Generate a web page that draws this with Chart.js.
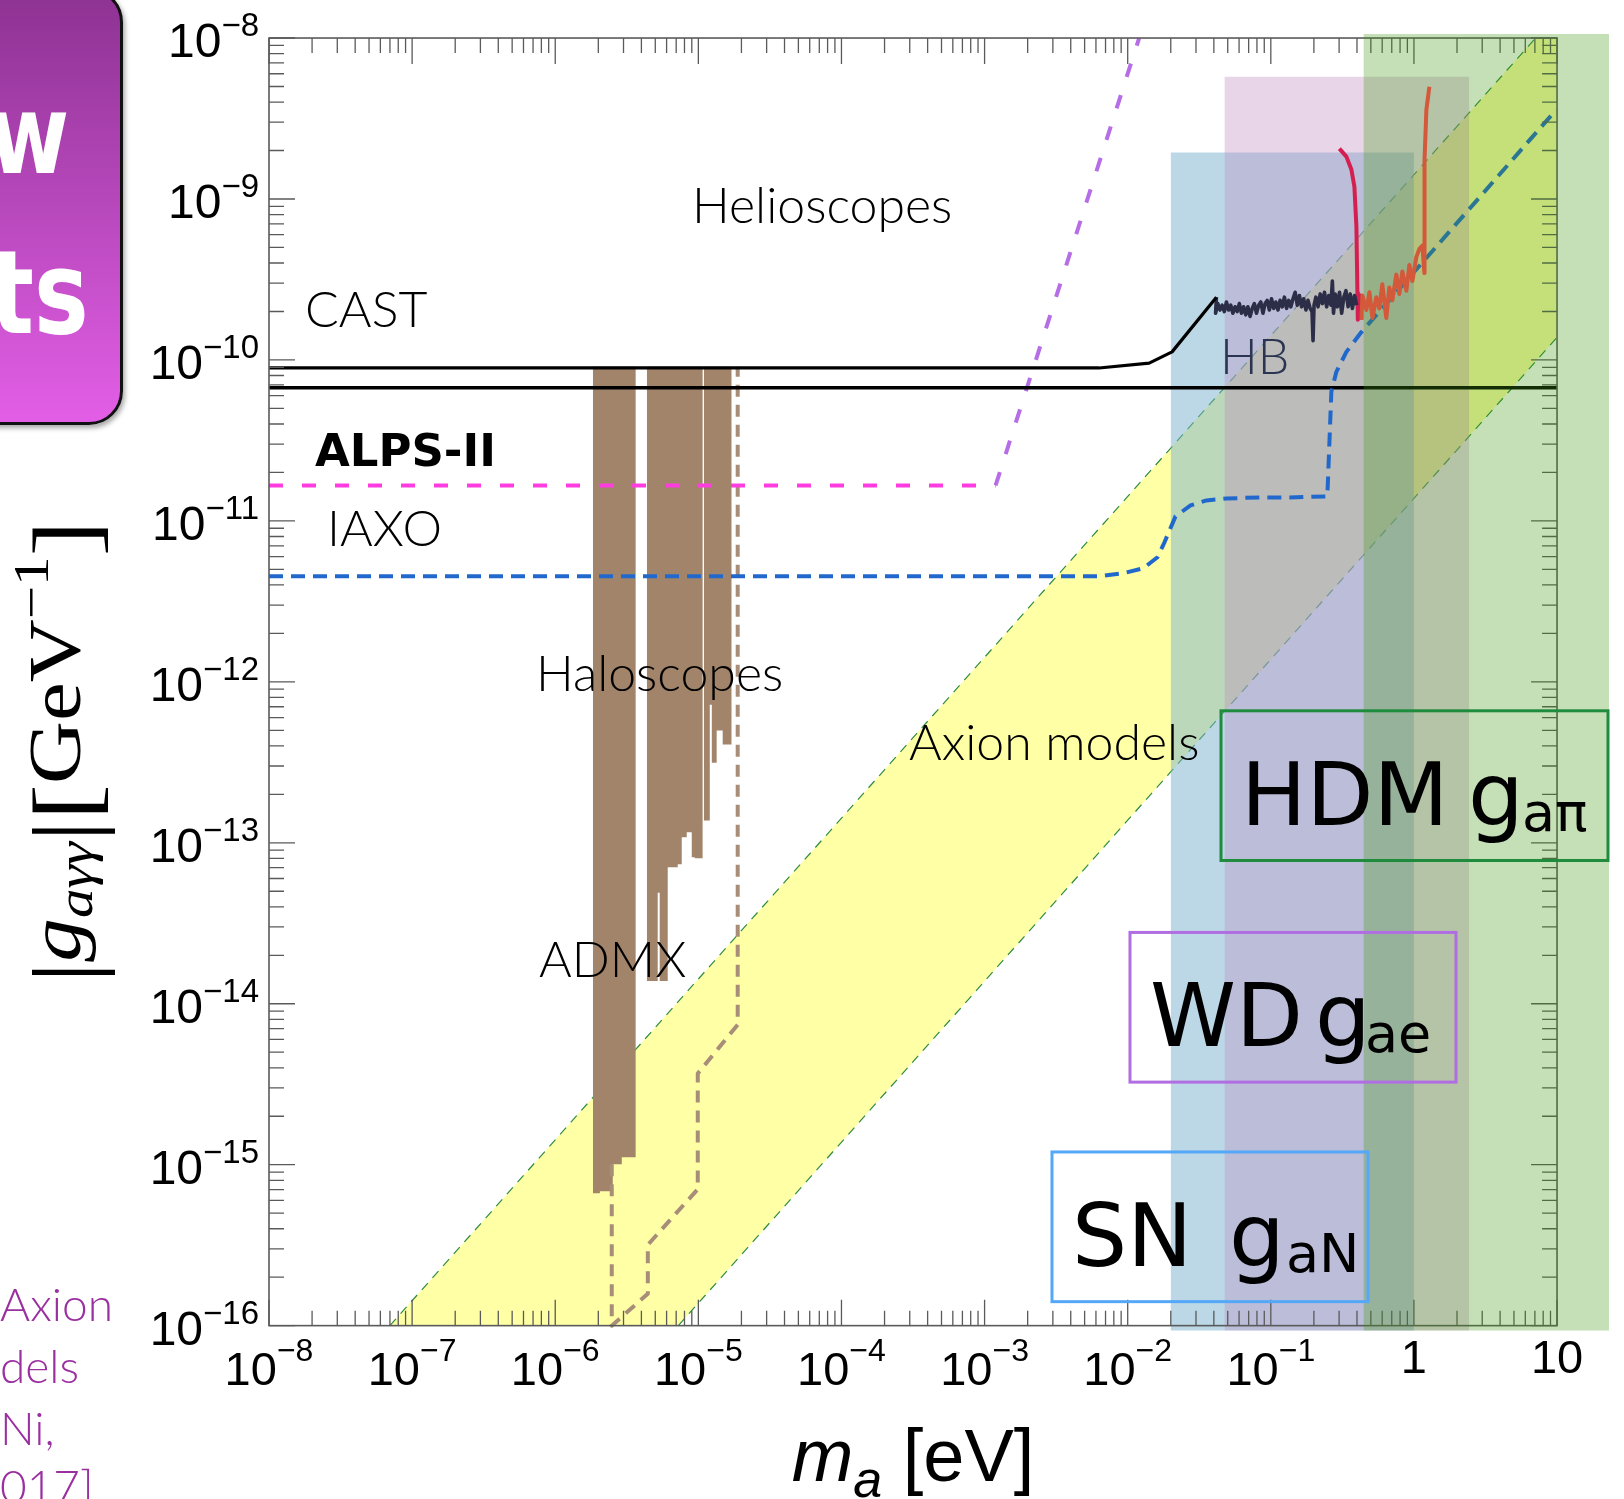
<!DOCTYPE html>
<html>
<head>
<meta charset="utf-8">
<script src="https://cdn.jsdelivr.net/npm/chart.js"></script>
<style>
  html, body { margin: 0; padding: 0; background: #fff; overflow: hidden; }
  #wrap { position: relative; width: 1624px; height: 1499px; }
  #myChart { position: absolute; left: 0; top: 0; }
  .slideBox { position: absolute; left: -40px; top: -12px; width: 163px; height: 437px; box-sizing: border-box;
    border: 3px solid #111; border-radius: 34px; background: linear-gradient(#8d3292, #e25ee6);
    box-shadow: 2px 3px 5px rgba(0,0,0,0.35); }
  .slideTxt { position: absolute; color: #fff; line-height: 1; white-space: nowrap; font-weight: bold;
    font-family: "DejaVu Sans", sans-serif; transform: scaleX(0.8); transform-origin: left top; }
  .cite { position: absolute; left: 0; color: #9a2fa0; text-align: right; white-space: nowrap;
    font: 300 46px Lato, sans-serif; line-height: 48px; }
</style>
</head>
<body>
<div id="wrap">
  <canvas id="myChart" width="1624" height="1499"></canvas>
  <div class="slideBox"></div>
  <div class="slideTxt" style="left:-12px; top:80px; font-size:110px;">w</div>
  <div class="slideTxt" style="left:-10px; top:236px; font-size:115px;">ts</div>
  <div class="cite" style="top:1280px; width:106px;">Axion</div>
  <div class="cite" style="top:1342px; width:76px;">dels</div>
  <div class="cite" style="top:1404px; width:42px;">Ni,</div>
  <div class="cite" style="top:1462px; width:80px;">017]</div>
</div>
<script>
// ---------------------------------------------------------------------------
// everything below is in log10 units: x = log10(m_a / eV), y = log10(g / GeV^-1)
const xDecades = [-8, -7, -6, -5, -4, -3, -2, -1, 0, 1];
const xTickLabels = [["10", "−8"], ["10", "−7"], ["10", "−6"], ["10", "−5"], ["10", "−4"],
  ["10", "−3"], ["10", "−2"], ["10", "−1"], ["1", ""], ["10", ""]];
const yDecades = [-16, -15, -14, -13, -12, -11, -10, -9, -8];
const yTickLabels = [["10", "−16"], ["10", "−15"], ["10", "−14"], ["10", "−13"], ["10", "−12"],
  ["10", "−11"], ["10", "−10"], ["10", "−9"], ["10", "−8"]];
const xRange = [-8, 1.363];
const yRange = [-16.031, -7.975];

// QCD axion band (two edges)
const axionUpperFill = [[-7.155, -16], [0.85, -8], [1, -8]];
const axionLowerFill = [[-7.155, -16], [-5.14, -16], [1, -9.86]];
const axionUpperEdge = [[-7.155, -16], [0.85, -8]];
const axionLowerEdge = [[-5.14, -16], [1, -9.86]];

// astrophysics hints (top edge, filled down)
const snBand = [[-1.70, -8.712], [0, -8.712]];
const wdBand = [[-1.324, -8.241], [0.387, -8.241]];
const hdmBand = [[-0.353, -7.975], [1.363, -7.975]];
const bandFloor = -16.031;

// helioscopes
const castLine = [[-8, -10.05], [-2.2, -10.05], [-1.85, -10.02], [-1.69, -9.95], [-1.38, -9.61]];
const castNoise = [[-1.380, -9.61], [-1.386, -9.71], [-1.370, -9.65], [-1.355, -9.69], [-1.340, -9.66],
  [-1.325, -9.70], [-1.310, -9.64], [-1.295, -9.69], [-1.280, -9.66], [-1.265, -9.71], [-1.250, -9.67],
  [-1.235, -9.70], [-1.220, -9.65], [-1.205, -9.71], [-1.190, -9.67], [-1.175, -9.72], [-1.160, -9.67],
  [-1.145, -9.73], [-1.130, -9.68], [-1.115, -9.65], [-1.100, -9.71], [-1.085, -9.66], [-1.070, -9.64],
  [-1.055, -9.71], [-1.040, -9.65], [-1.025, -9.63], [-1.010, -9.69], [-0.995, -9.62], [-0.980, -9.68],
  [-0.965, -9.64], [-0.950, -9.69], [-0.935, -9.63], [-0.920, -9.67], [-0.905, -9.61], [-0.890, -9.68],
  [-0.875, -9.63], [-0.860, -9.67], [-0.845, -9.62], [-0.830, -9.58], [-0.815, -9.66], [-0.800, -9.60],
  [-0.785, -9.67], [-0.770, -9.62], [-0.755, -9.69], [-0.740, -9.63], [-0.725, -9.68], [-0.712, -9.70],
  [-0.705, -9.88], [-0.698, -9.66], [-0.685, -9.61], [-0.670, -9.67], [-0.655, -9.59], [-0.640, -9.65],
  [-0.625, -9.58], [-0.610, -9.67], [-0.595, -9.60], [-0.580, -9.66], [-0.570, -9.51], [-0.562, -9.71],
  [-0.550, -9.59], [-0.535, -9.67], [-0.520, -9.58], [-0.505, -9.71], [-0.490, -9.61], [-0.475, -9.57],
  [-0.460, -9.67], [-0.445, -9.59], [-0.430, -9.68], [-0.415, -9.60], [-0.400, -9.66]];
const castRed = [[-0.521, -8.687], [-0.472, -8.737], [-0.437, -8.817], [-0.416, -8.923], [-0.402, -9.17],
  [-0.395, -9.58], [-0.392, -9.75], [-0.375, -9.60], [-0.367, -9.75]];
const castOrange = [[-0.367, -9.75], [-0.360, -9.60], [-0.332, -9.69], [-0.311, -9.58], [-0.290, -9.74],
  [-0.263, -9.61], [-0.242, -9.68], [-0.221, -9.53], [-0.193, -9.74], [-0.172, -9.55], [-0.151, -9.63],
  [-0.123, -9.47], [-0.102, -9.59], [-0.081, -9.45], [-0.053, -9.57], [-0.032, -9.41], [-0.011, -9.51],
  [0.017, -9.36], [0.038, -9.31], [0.059, -9.29], [0.073, -9.46], [0.073, -9.29], [0.075, -8.755],
  [0.087, -8.446], [0.108, -8.303]];
const hbLine = [[-8, -10.173], [1, -10.173]];
const alpsFlat = [[-8, -10.78], [-2.923, -10.78]];
const alpsRise = [[-2.923, -10.78], [-1.92, -8.0]];
const iaxoLine = [[-8, -11.344], [-2.197, -11.344], [-2.029, -11.325], [-1.89, -11.294], [-1.792, -11.226],
  [-1.743, -11.133], [-1.666, -10.972], [-1.561, -10.904], [-1.45, -10.873], [-1.31, -10.861],
  [-1.08, -10.854], [-0.87, -10.854], [-0.605, -10.848], [-0.577, -10.198], [-0.542, -10.074],
  [-0.472, -9.95], [-0.367, -9.827], [0.994, -8.446]];

// haloscopes: [x from, x to, lower edge], filled up to haloTop
const haloTop = -10.043;
const haloCol1 = [[-5.737, -5.688, -15.177], [-5.688, -5.598, -15.165], [-5.598, -5.535, -14.997], [-5.535, -5.437, -14.954]];
const haloCol2 = [[-5.360, -5.284, -13.858], [-5.284, -5.270, -13.31], [-5.270, -5.214, -13.858], [-5.214, -5.144, -13.152],
  [-5.144, -5.116, -13.133], [-5.116, -5.081, -12.966], [-5.081, -5.046, -12.935], [-5.046, -5.025, -13.090],
  [-5.025, -4.969, -13.096]];
const haloCol3 = [[-4.962, -4.920, -12.861], [-4.920, -4.906, -12.142], [-4.906, -4.872, -12.502],
  [-4.872, -4.830, -12.303], [-4.830, -4.767, -12.390]];
const admxReach = [[-5.605, -14.997], [-5.605, -16.0], [-5.353, -15.802], [-5.353, -15.498], [-5.004, -15.152],
  [-5.004, -14.433], [-4.725, -14.130], [-4.725, -10.043]];

// ---------------------------------------------------------------------------
const toPts = (arr) => arr.map((p) => ({ x: 10 ** p[0], y: 10 ** p[1] }));
const stepPts = (arr) => arr.flatMap((s) => [{ x: 10 ** s[0], y: 10 ** s[2] }, { x: 10 ** s[1], y: 10 ** s[2] }]);

function lineSet(label, arr, color, width, dash, order) {
  return { label, data: toPts(arr), borderColor: color, borderWidth: width, borderDash: dash,
    fill: false, order };
}
function fillSet(label, data, color, fill, order) {
  return { label, data, backgroundColor: color, borderWidth: 0, fill, order };
}

const serif = '"Liberation Serif", "Times New Roman", serif';
const sans = '"Liberation Sans", Arial, sans-serif';
const gill = 'Lato, "Open Sans", sans-serif';
const comic = '"DejaVu Sans", sans-serif';

const notes = [
  { text: "Helioscopes", at: [-5.044, -9.147], font: "300 50px " + gill, color: "#000" },
  { text: "CAST", at: [-7.748, -9.798], font: "300 50px " + gill, color: "#000" },
  { text: "ALPS-II", at: [-7.679, -10.660], font: "bold 45px " + comic, color: "#000" },
  { text: "IAXO", at: [-7.595, -11.157], font: "300 50px " + gill, color: "#000" },
  { text: "Haloscopes", at: [-6.134, -12.056], font: "300 50px " + gill, color: "#000" },
  { text: "ADMX", at: [-6.113, -13.836], font: "300 50px " + gill, color: "#000" },
  { text: "Axion models", at: [-3.528, -12.484], font: "300 50px " + gill, color: "#000" },
  { text: "HB", at: [-1.355, -10.090], font: "300 50px " + gill, color: "#2b3450" },
];
const boxes = [
  { from: [-1.348, -12.180], to: [1.356, -13.110], color: "#1e8c3c", big: "HDM", sub: "aπ", g: 247, s: 301 },
  { from: [-1.984, -13.557], to: [0.294, -14.487], color: "#b06ee2", big: "WD", sub: "ae", g: 185, s: 235 },
  { from: [-2.529, -14.921], to: [-0.321, -15.851], color: "#55a8f8", big: "SN", sub: "aN", g: 177, s: 234 },
];

function richText(ctx, parts, x, y, align) {
  let w = 0;
  parts.forEach((p) => { ctx.font = p[1]; w += ctx.measureText(p[0]).width; });
  let cx = align === "right" ? x - w : align === "center" ? x - w / 2 : x;
  ctx.textAlign = "left";
  ctx.textBaseline = "alphabetic";
  parts.forEach((p) => {
    ctx.font = p[1];
    ctx.fillText(p[0], cx, y + (p[2] || 0));
    cx += ctx.measureText(p[0]).width;
  });
}

function frameEdges(chart) {
  const sx = chart.scales.x, sy = chart.scales.y;
  return {
    left: sx.getPixelForValue(10 ** xDecades[0]),
    right: sx.getPixelForValue(10 ** xDecades[xDecades.length - 1]),
    bottom: sy.getPixelForValue(10 ** yDecades[0]),
    top: sy.getPixelForValue(10 ** yDecades[yDecades.length - 1]),
  };
}

function drawFrame(chart) {
  const ctx = chart.ctx, sx = chart.scales.x, sy = chart.scales.y;
  const f = frameEdges(chart);
  ctx.save();
  ctx.strokeStyle = "#5a5a5a";
  ctx.lineWidth = 1.6;
  ctx.strokeRect(f.left, f.top, f.right - f.left, f.bottom - f.top);
  ctx.lineWidth = 1.3;
  ctx.beginPath();
  xDecades.forEach((d, i) => {
    const kmax = i === xDecades.length - 1 ? 1 : 9;
    for (let k = 1; k <= kmax; k++) {
      const x = sx.getPixelForValue(k * 10 ** d);
      const len = k === 1 ? 26 : 15;
      ctx.moveTo(x, f.bottom); ctx.lineTo(x, f.bottom - len);
      ctx.moveTo(x, f.top); ctx.lineTo(x, f.top + len);
    }
  });
  yDecades.forEach((d, i) => {
    const kmax = i === yDecades.length - 1 ? 1 : 9;
    for (let k = 1; k <= kmax; k++) {
      const y = sy.getPixelForValue(k * 10 ** d);
      const len = k === 1 ? 26 : 15;
      ctx.moveTo(f.left, y); ctx.lineTo(f.left + len, y);
      ctx.moveTo(f.right, y); ctx.lineTo(f.right - len, y);
    }
  });
  ctx.stroke();
  ctx.restore();
}

function drawTexts(chart) {
  const ctx = chart.ctx, sx = chart.scales.x, sy = chart.scales.y;
  const f = frameEdges(chart);
  const P = (p) => [sx.getPixelForValue(10 ** p[0]), sy.getPixelForValue(10 ** p[1])];
  ctx.save();
  ctx.fillStyle = "#000";

  // tick labels
  xDecades.forEach((d, i) => {
    const [base, exp] = xTickLabels[i];
    const x = sx.getPixelForValue(10 ** d);
    if (exp) richText(ctx, [[base, "47px " + sans], [exp, "32px " + sans, -24]], x, f.bottom + 59, "center");
    else richText(ctx, [[base, "47px " + sans]], x, f.bottom + 47, "center");
  });
  yDecades.forEach((d, i) => {
    const [base, exp] = yTickLabels[i];
    const y = sy.getPixelForValue(10 ** d);
    richText(ctx, [[base, "48px " + sans], [exp, "33px " + sans, -21]], f.left - 10, y + 19, "right");
  });

  // axis titles
  richText(ctx, [["m", "italic 74px " + sans], ["a", "italic 52px " + sans, 16], [" [eV]", "74px " + sans]],
    (f.left + f.right) / 2, f.bottom + 155, "center");
  ctx.save();
  ctx.translate(80, (f.top + f.bottom) / 2 + 70);
  ctx.rotate(-Math.PI / 2);
  ctx.scale(1.18, 1);
  richText(ctx, [["|", "92px " + serif, 16], ["g", "italic 74px " + serif], ["aγγ", "italic 50px " + serif, 12],
    ["|", "92px " + serif, 16], ["[", "92px " + serif, 16], ["GeV", "74px " + serif], ["−1", "50px " + serif, -32],
    ["]", "92px " + serif, 16]], 0, 0, "center");
  ctx.restore();

  // region labels
  notes.forEach((n) => {
    const [x, y] = P(n.at);
    ctx.fillStyle = n.color;
    richText(ctx, [[n.text, n.font]], x, y, "left");
  });

  // hint boxes
  boxes.forEach((b) => {
    const [x0, y0] = P(b.from);
    const [x1, y1] = P(b.to);
    ctx.strokeStyle = b.color;
    ctx.lineWidth = 3;
    ctx.strokeRect(x0, y0, x1 - x0, y1 - y0);
    ctx.fillStyle = "#000";
    richText(ctx, [[b.big, "87px " + comic]], x0 + 20, y0 + 114, "left");
    richText(ctx, [["g", "88px " + comic]], x0 + b.g, y0 + 114, "left");
    richText(ctx, [[b.sub, "54px " + comic]], x0 + b.s, y0 + 120, "left");
  });
  ctx.restore();
}

const framePlugin = {
  id: "frameAndLabels",
  afterDatasetDraw(chart, args) {
    if (chart.data.datasets[args.index].label === "IAXO") drawFrame(chart);
  },
  afterDraw(chart) {
    drawTexts(chart);
  },
};

const datasets = [
  fillSet("HDM", toPts(hdmBand), "rgba(62,152,18,0.3)", { value: 10 ** bandFloor }, 0),
  lineSet("CAST 4He", castOrange, "#d4583a", 4, [], -1),
  lineSet("IAXO", iaxoLine, "#2168cc", 4, [14, 8], 1),
  lineSet("CAST", castLine, "#000", 3.2, [], 2),
  lineSet("CAST vac", castNoise, "#2c2e48", 3.6, [], 2),
  lineSet("CAST 3He", castRed, "#d42050", 4, [], 2),
  lineSet("HB", hbLine, "#000", 3.5, [], 2),
  lineSet("ALPS-II", alpsFlat, "#ff3ce0", 4, [14, 19], 2),
  lineSet("ALPS-II mass", alpsRise, "#b56ee6", 4, [14, 19], 2),
  lineSet("ADMX reach", admxReach, "#a88e78", 4, [12, 8], 2),
  fillSet("ADMX 1", stepPts(haloCol1), "#a2846a", { value: 10 ** haloTop }, 3),
  fillSet("ADMX 2", stepPts(haloCol2), "#a2846a", { value: 10 ** haloTop }, 3),
  fillSet("ADMX 3", stepPts(haloCol3), "#a2846a", { value: 10 ** haloTop }, 3),
  fillSet("WD", toPts(wdBand), "rgba(189,138,189,0.35)", { value: 10 ** bandFloor }, 4),
  fillSet("SN", toPts(snBand), "rgba(121,177,205,0.5)", { value: 10 ** bandFloor }, 4),
  lineSet("axion edge up", axionUpperEdge, "#2e8b3e", 1.2, [9, 7], 5),
  lineSet("axion edge low", axionLowerEdge, "#2e8b3e", 1.2, [9, 7], 5),
  fillSet("axion models", toPts(axionUpperFill), "#ffffa6", "+1", 6),
  fillSet("axion lower", toPts(axionLowerFill), "rgba(0,0,0,0)", false, 6),
];

const ctx = document.getElementById("myChart");
const myChart = new Chart(ctx, {
  type: "line",
  data: { datasets },
  options: {
    responsive: false,
    animation: false,
    events: [],
    layout: { padding: { left: 269, right: 15, top: 34, bottom: 166 } },
    elements: {
      point: { radius: 0 },
      line: { tension: 0, borderJoinStyle: "round", borderCapStyle: "butt" },
    },
    scales: {
      x: { type: "logarithmic", min: 10 ** xRange[0], max: 10 ** xRange[1], display: false },
      y: { type: "logarithmic", min: 10 ** yRange[0], max: 10 ** yRange[1], display: false },
    },
    plugins: { legend: { display: false }, tooltip: { enabled: false } },
  },
  plugins: [framePlugin],
});
</script>
</body>
</html>
